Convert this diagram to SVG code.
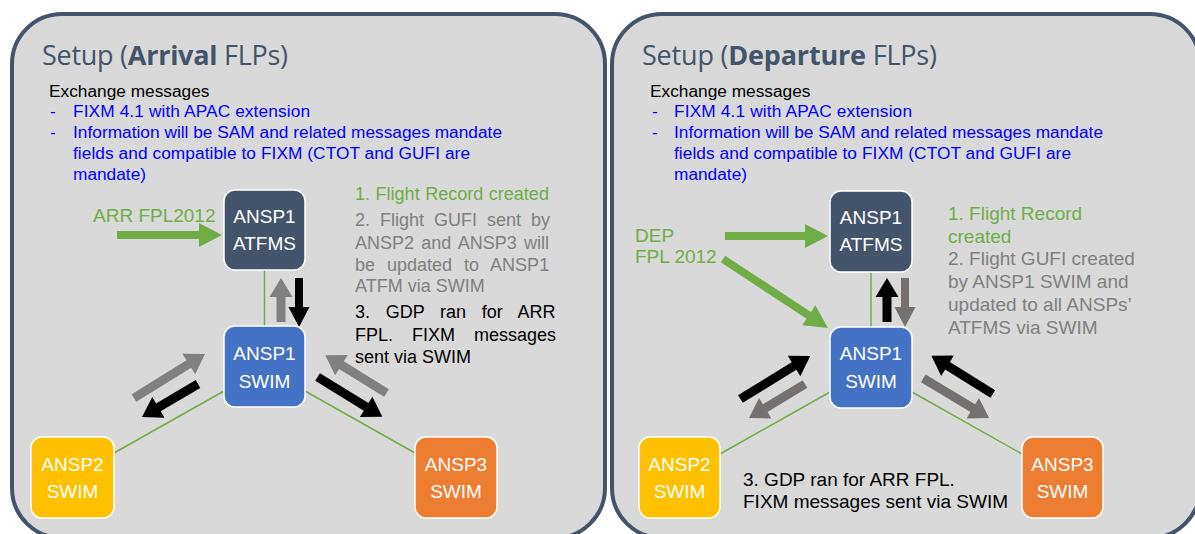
<svg xmlns="http://www.w3.org/2000/svg" width="1195" height="534" viewBox="0 0 1195 534">
<style>
.panel{fill:#D9D9D9;stroke:#44546A;stroke-width:4}
.title{font-family:"Open Sans","DejaVu Sans",sans-serif;font-size:27px;fill:#44546A}
.t{font-family:"Liberation Sans",Arial,sans-serif}
.ex{font-size:17.3px;fill:#000}
.bl{font-size:17.3px;fill:#0000FF}
.s18{font-size:18px}
.s19{font-size:19px}
.green{fill:#70AD47}
.gray{fill:#808080}
.blk{fill:#000}
.node rect{stroke:#FFFFFF;stroke-width:1.5}
.node text{font-family:"Liberation Sans",Arial,sans-serif;font-size:19px;fill:#FFFFFF;text-anchor:middle}
.link{stroke:#70AD47;stroke-width:1.5;fill:none}
.ag{fill:#70AD47}
.ay{fill:#808080}
.ay2{fill:#767171}
.ab{fill:#000}
</style>

<!-- Panels -->
<g id="panel-arrival">
<rect class="panel" x="12" y="14" width="593" height="524" rx="50" ry="50"/>
<text class="title" x="42" y="65" textLength="246" lengthAdjust="spacing">Setup (<tspan font-weight="bold">Arrival</tspan> FLPs)</text>
<text class="t ex" x="49" y="97">Exchange messages</text>
<text class="t bl" x="50" y="117">-</text>
<text class="t bl" x="73" y="117" textLength="237" lengthAdjust="spacing">FIXM 4.1 with APAC extension</text>
<text class="t bl" x="50" y="138">-</text>
<text class="t bl" x="73" y="138" textLength="429" lengthAdjust="spacing">Information will be SAM and related messages mandate</text>
<text class="t bl" x="73" y="159" textLength="397" lengthAdjust="spacing">fields and compatible to FIXM (CTOT and GUFI are</text>
<text class="t bl" x="73" y="180">mandate)</text>
<text class="t s19 green" x="93" y="222">ARR FPL2012</text>
<text class="t s18 green" x="355" y="200" word-spacing="0.6">1. Flight Record created</text>
<text class="t s18 gray" x="355" y="226" word-spacing="5">2. Flight GUFI sent by</text>
<text class="t s18 gray" x="355" y="249" word-spacing="2.3">ANSP2 and ANSP3 will</text>
<text class="t s18 gray" x="355" y="271" word-spacing="7">be updated to ANSP1</text>
<text class="t s18 gray" x="355" y="292">ATFM via SWIM</text>
<text class="t s18 blk" x="355" y="318" word-spacing="10.7">3. GDP ran for ARR</text>
<text class="t s18 blk" x="355" y="341" word-spacing="14">FPL. FIXM messages</text>
<text class="t s18 blk" x="355" y="363">sent via SWIM</text>
</g>

<g id="panel-departure">
<rect class="panel" x="612" y="14" width="588" height="524" rx="50" ry="50"/>
<text class="title" x="642" y="65" textLength="295" lengthAdjust="spacing">Setup (<tspan font-weight="bold">Departure</tspan> FLPs)</text>
<text class="t ex" x="650" y="97">Exchange messages</text>
<text class="t bl" x="652" y="117">-</text>
<text class="t bl" x="674" y="117" textLength="238" lengthAdjust="spacing">FIXM 4.1 with APAC extension</text>
<text class="t bl" x="652" y="138">-</text>
<text class="t bl" x="674" y="138" textLength="429" lengthAdjust="spacing">Information will be SAM and related messages mandate</text>
<text class="t bl" x="674" y="159" textLength="397" lengthAdjust="spacing">fields and compatible to FIXM (CTOT and GUFI are</text>
<text class="t bl" x="674" y="180">mandate)</text>
<text class="t s19 green" x="635" y="242">DEP</text>
<text class="t s19 green" x="635" y="263">FPL 2012</text>
<text class="t s19 green" x="948" y="220">1. Flight Record</text>
<text class="t s19 green" x="948" y="243">created</text>
<text class="t s19 gray" x="948" y="265">2. Flight GUFI created</text>
<text class="t s19 gray" x="948" y="288">by ANSP1 SWIM and</text>
<text class="t s19 gray" x="948" y="311">updated to all ANSPs’</text>
<text class="t s19 gray" x="948" y="334">ATFMS via SWIM</text>
<text class="t s19 blk" x="743" y="486">3. GDP ran for ARR FPL.</text>
<text class="t s19 blk" x="743" y="508">FIXM messages sent via SWIM</text>
</g>

<!-- Connectors -->
<g id="connectors">
<line class="link" x1="264.5" y1="270" x2="264.5" y2="326"/>
<line class="link" x1="224" y1="391" x2="114" y2="453"/>
<line class="link" x1="305" y1="391" x2="415" y2="453"/>
<line class="link" x1="871" y1="272" x2="871" y2="327"/>
<line class="link" x1="830" y1="392" x2="720" y2="454"/>
<line class="link" x1="912" y1="392" x2="1022" y2="454"/>

<path class="ag" transform="translate(117,235)" d="M0,-4 L82,-4 L82,-12 L105,0 L82,12 L82,4 L0,4 Z"/>
<path class="ay" transform="translate(281,322) rotate(-90)" d="M0,-4.5 L25,-4.5 L25,-11.5 L44,0 L25,11.5 L25,4.5 L0,4.5 Z"/>
<path class="ab" transform="translate(299,278) rotate(90)" d="M0,-4 L29,-4 L29,-10.5 L49,0 L29,10.5 L29,4 L0,4 Z"/>
<path class="ay" transform="translate(134,398) rotate(-31.8)" d="M0,-4.5 L64.5,-4.5 L64.5,-12 L83.5,0 L64.5,12 L64.5,4.5 L0,4.5 Z"/>
<path class="ab" transform="translate(198,384) rotate(149.5)" d="M0,-4.5 L46,-4.5 L46,-12 L65,0 L46,12 L46,4.5 L0,4.5 Z"/>
<path class="ay" transform="translate(386.5,393) rotate(-148.3)" d="M0,-4.5 L53,-4.5 L53,-12 L72,0 L53,12 L53,4.5 L0,4.5 Z"/>
<path class="ab" transform="translate(317.6,377) rotate(31.6)" d="M0,-4.5 L57,-4.5 L57,-12 L76,0 L57,12 L57,4.5 L0,4.5 Z"/>

<path class="ag" transform="translate(725,236)" d="M0,-4 L80,-4 L80,-12 L103,0 L80,12 L80,4 L0,4 Z"/>
<path class="ag" transform="translate(723,259) rotate(33.3)" d="M0,-4 L102.6,-4 L102.6,-12 L125.6,0 L102.6,12 L102.6,4 L0,4 Z"/>
<path class="ab" transform="translate(887,322) rotate(-90)" d="M0,-4.5 L25,-4.5 L25,-11.5 L44,0 L25,11.5 L25,4.5 L0,4.5 Z"/>
<path class="ay2" transform="translate(905,278) rotate(90)" d="M0,-4 L29,-4 L29,-10.5 L49,0 L29,10.5 L29,4 L0,4 Z"/>
<path class="ab" transform="translate(740.4,399) rotate(-31.6)" d="M0,-4.5 L63,-4.5 L63,-12 L82,0 L63,12 L63,4.5 L0,4.5 Z"/>
<path class="ay2" transform="translate(805,384) rotate(148.7)" d="M0,-4.5 L46.5,-4.5 L46.5,-12 L65.5,0 L46.5,12 L46.5,4.5 L0,4.5 Z"/>
<path class="ab" transform="translate(992.8,394) rotate(-148)" d="M0,-4.5 L53.4,-4.5 L53.4,-12 L72.4,0 L53.4,12 L53.4,4.5 L0,4.5 Z"/>
<path class="ay2" transform="translate(923.3,378.3) rotate(31.1)" d="M0,-4.5 L57.8,-4.5 L57.8,-12 L76.8,0 L57.8,12 L57.8,4.5 L0,4.5 Z"/>
</g>

<!-- Nodes: arrival -->
<g id="arr-ansp1-atfms" class="node">
<rect x="224" y="190" width="81" height="80" rx="11" fill="#44546A"/>
<text x="264.5" y="223">ANSP1</text>
<text x="264.5" y="250">ATFMS</text>
</g>
<g id="arr-ansp1-swim" class="node">
<rect x="224" y="326" width="81" height="81" rx="11" fill="#4472C4"/>
<text x="264.5" y="360">ANSP1</text>
<text x="264.5" y="388">SWIM</text>
</g>
<g id="arr-ansp2-swim" class="node">
<rect x="31" y="437" width="83" height="81" rx="11" fill="#FFC000"/>
<text x="72.5" y="471">ANSP2</text>
<text x="72.5" y="498">SWIM</text>
</g>
<g id="arr-ansp3-swim" class="node">
<rect x="415" y="437" width="82" height="81" rx="11" fill="#ED7D31"/>
<text x="456" y="471">ANSP3</text>
<text x="456" y="498">SWIM</text>
</g>

<!-- Nodes: departure -->
<g id="dep-ansp1-atfms" class="node">
<rect x="830" y="191" width="82" height="81" rx="11" fill="#44546A"/>
<text x="871" y="224">ANSP1</text>
<text x="871" y="251">ATFMS</text>
</g>
<g id="dep-ansp1-swim" class="node">
<rect x="830" y="327" width="82" height="81" rx="11" fill="#4472C4"/>
<text x="871" y="360">ANSP1</text>
<text x="871" y="388">SWIM</text>
</g>
<g id="dep-ansp2-swim" class="node">
<rect x="639" y="437" width="81" height="81" rx="11" fill="#FFC000"/>
<text x="679.5" y="471">ANSP2</text>
<text x="679.5" y="498">SWIM</text>
</g>
<g id="dep-ansp3-swim" class="node">
<rect x="1022" y="437" width="81" height="81" rx="11" fill="#ED7D31"/>
<text x="1062.5" y="471">ANSP3</text>
<text x="1062.5" y="498">SWIM</text>
</g>
</svg>
